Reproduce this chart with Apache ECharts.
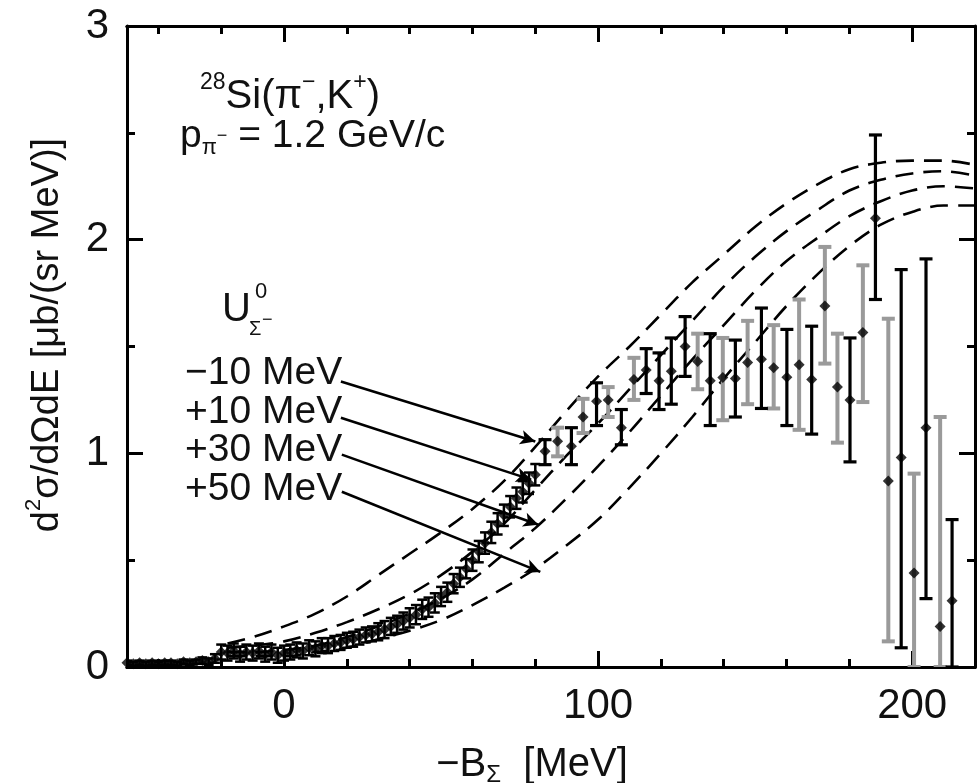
<!DOCTYPE html>
<html><head><meta charset="utf-8">
<script src="https://cdn.jsdelivr.net/npm/echarts@6/dist/echarts.min.js"></script>
<style>html,body{margin:0;padding:0;background:#fff}#c{width:978px;height:783px}</style>
</head><body><div id="c"></div>
<script>
// ---- theory curves (U_Sigma^0 = -10, +10, +30, +50 MeV)
const curveX   = [-18, -10, 0, 10, 20, 30, 40, 50, 60, 70, 80, 90, 100, 110, 120, 130, 140, 150, 160, 170, 180, 190, 200, 210, 220];
const curveM10 = [0.11, 0.14, 0.19, 0.25, 0.33, 0.43, 0.53, 0.63, 0.74, 0.87, 1.03, 1.20, 1.36, 1.50, 1.65, 1.80, 1.93, 2.06, 2.17, 2.26, 2.33, 2.36, 2.37, 2.37, 2.35];
const curveP10 = [0.09, 0.10, 0.12, 0.16, 0.21, 0.27, 0.34, 0.43, 0.54, 0.67, 0.83, 0.99, 1.14, 1.30, 1.46, 1.62, 1.78, 1.92, 2.04, 2.14, 2.23, 2.28, 2.31, 2.32, 2.30];
const curveP30 = [0.07, 0.07, 0.08, 0.10, 0.14, 0.19, 0.25, 0.32, 0.41, 0.53, 0.65, 0.79, 0.94, 1.10, 1.27, 1.44, 1.60, 1.76, 1.90, 2.01, 2.11, 2.18, 2.23, 2.25, 2.24];
const curveP50 = [0.05, 0.05, 0.05, 0.07, 0.09, 0.13, 0.17, 0.22, 0.29, 0.37, 0.46, 0.57, 0.69, 0.84, 1.00, 1.17, 1.35, 1.52, 1.69, 1.84, 1.97, 2.07, 2.13, 2.16, 2.16];
const curveNames = ['-10 MeV', '+10 MeV', '+30 MeV', '+50 MeV'];

// ---- low-energy data (black)
const lowX = [-50,-48,-46,-44,-42,-40,-38,-36,-34,-32,-30,-28,-26,-24,-22,-20,-18,-16,-14,-12,-10,-8,-6,-4,-2,0,2,4,6,8,10,12,14,16,18,20,22,24,26,28,30,32,34,36,38,40,42,44,46,48,50,52,54,56,58,60,62,64,66,68,70,72,74,76,78,80];
const lowY = [0.02,0.015,0.02,0.015,0.02,0.015,0.02,0.02,0.015,0.025,0.02,0.025,0.03,0.025,0.04,0.07,0.065,0.075,0.06,0.07,0.065,0.075,0.06,0.07,0.055,0.065,0.07,0.08,0.075,0.09,0.085,0.10,0.10,0.11,0.115,0.125,0.13,0.14,0.15,0.155,0.165,0.175,0.19,0.20,0.215,0.23,0.245,0.27,0.28,0.30,0.33,0.35,0.39,0.42,0.46,0.50,0.54,0.58,0.63,0.67,0.71,0.75,0.79,0.82,0.86,0.90];
const lowErr = [0.01,0.01,0.01,0.01,0.01,0.01,0.01,0.01,0.01,0.01,0.01,0.01,0.015,0.015,0.02,0.035,0.035,0.035,0.035,0.035,0.035,0.035,0.035,0.035,0.035,0.035,0.035,0.035,0.035,0.035,0.035,0.035,0.035,0.035,0.035,0.035,0.035,0.035,0.035,0.035,0.04,0.04,0.04,0.04,0.04,0.045,0.045,0.045,0.045,0.045,0.045,0.045,0.045,0.045,0.045,0.05,0.05,0.05,0.05,0.05,0.05,0.05,0.05,0.05,0.05,0.05];

// ---- higher-energy data, black error bars
const blackX  = [83.1, 91.5, 99.5, 107.4, 115.3, 119.4, 123.3, 127.7, 135.7, 143.7, 152.0, 160.1, 168.0, 180.2, 188.3, 196.5, 204.4, 212.7];
const blackY  = [1.01, 1.033, 1.244, 1.12, 1.39, 1.34, 1.384, 1.50, 1.34, 1.35, 1.44, 1.356, 1.345, 1.25, 2.10, 0.98, 1.12, 0.31];
const blackLo = [0.947, 0.947, 1.13, 1.04, 1.28, 1.205, 1.23, 1.36, 1.13, 1.17, 1.21, 1.13, 1.09, 0.96, 1.72, 0.09, 0.32, 0.0];
const blackHi = [1.064, 1.12, 1.33, 1.205, 1.49, 1.47, 1.54, 1.64, 1.56, 1.53, 1.68, 1.58, 1.595, 1.54, 2.49, 1.86, 1.91, 0.69];

// ---- higher-energy data, grey error bars
const greyX  = [87.1, 95.2, 103.2, 111.4, 131.7, 139.7, 147.6, 155.9, 164.0, 172.2, 176.2, 184.3, 192.4, 200.6, 208.9];
const greyY  = [1.056, 1.17, 1.25, 1.345, 1.43, 1.355, 1.425, 1.40, 1.415, 1.69, 1.31, 1.565, 0.87, 0.44, 0.19];
const greyLo = [0.986, 1.095, 1.17, 1.25, 1.30, 1.155, 1.23, 1.21, 1.11, 1.42, 1.05, 1.24, 0.12, 0.0, 0.0];
const greyHi = [1.12, 1.255, 1.31, 1.447, 1.56, 1.54, 1.62, 1.60, 1.72, 1.966, 1.56, 1.88, 1.63, 0.905, 1.17];

// ---- arrows (label -> curve), data coords
const arrowFrom = [[18.1, 1.336], [18.1, 1.167], [18.4, 0.994], [18.4, 0.82]];
const arrowTo   = [[80.0, 1.055], [78.7, 0.877], [81.0, 0.666], [81.6, 0.445]];

// ---- axis ticks
const xLabels = [0, 100, 200];
const xMinor = [-40, -20, 20, 40, 60, 80, 120, 140, 160, 180, 220];

const F = '"Liberation Sans", Arial, Helvetica, sans-serif';
const chart = echarts.init(document.getElementById('c'));

const pairs = (xs, ys) => xs.map((x, i) => [x, ys[i]]);
const lowBars = lowX.map((x, i) => [x, lowY[i], lowY[i] - lowErr[i], lowY[i] + lowErr[i]]);
const blackBars = blackX.map((x, i) => [x, blackY[i], blackLo[i], blackHi[i]]);
const greyBars = greyX.map((x, i) => [x, greyY[i], greyLo[i], greyHi[i]]);

function errRender(color, capW, lw) {
  return function (params, api) {
    const x = api.value(0), lo = api.value(2), hi = api.value(3);
    const a = api.coord([x, hi]), b = api.coord([x, lo]);
    const h = capW / 2;
    const st = { stroke: color, lineWidth: lw };
    return { type: 'group', children: [
      { type: 'line', shape: { x1: a[0], y1: a[1], x2: b[0], y2: b[1] }, style: st },
      { type: 'line', shape: { x1: a[0] - h, y1: a[1], x2: a[0] + h, y2: a[1] }, style: st },
      { type: 'line', shape: { x1: b[0] - h, y1: b[1], x2: b[0] + h, y2: b[1] }, style: st }
    ]};
  };
}

const axisLine = { show: true, onZero: false, lineStyle: { color: '#000', width: 3 } };
function xAx(pos, ticks, len, labels) {
  return {
    type: 'value', position: pos, min: -50, max: 220,
    axisLine: axisLine, splitLine: { show: false },
    axisTick: { show: true, inside: true, length: len, customValues: ticks, lineStyle: { color: '#000', width: 3 } },
    axisLabel: labels ? { show: true, customValues: xLabels, margin: 18, fontSize: 42, fontFamily: F, color: '#111' } : { show: false }
  };
}
function yAx(pos, labels) {
  return {
    type: 'value', position: pos, min: 0, max: 3, interval: 1,
    axisLine: axisLine, splitLine: { show: false },
    axisTick: { show: true, inside: true, length: 16, lineStyle: { color: '#000', width: 3 } },
    minorTick: { show: true, splitNumber: 2, length: 8, lineStyle: { color: '#000', width: 3 } },
    minorSplitLine: { show: false },
    axisLabel: labels ? { show: true, margin: 18, fontSize: 42, fontFamily: F, color: '#111' } : { show: false }
  };
}

const dash = { color: '#000', width: 2.6, type: [18, 10] };
const curves = [curveM10, curveP10, curveP30, curveP50].map((c, i) => ({
  name: curveNames[i], type: 'line', xAxisIndex: 0, yAxisIndex: 0,
  data: pairs(curveX, c), smooth: 0.35, symbol: 'none', lineStyle: dash, z: 2
}));
curves[0].markLine = {
  silent: true, symbol: ['none', 'arrow'], symbolSize: [11, 15],
  lineStyle: { color: '#000', width: 2.6, type: 'solid' }, label: { show: false },
  data: arrowFrom.map((f, i) => [{ coord: f }, { coord: arrowTo[i] }])
};

const T = (s) => Object.assign({ fill: '#111', fontFamily: F }, s);

chart.setOption({
  animation: false,
  backgroundColor: '#fff',
  grid: { left: 127, right: 3, top: 26, bottom: 116 },
  xAxis: [xAx('bottom', xLabels, 16, true), xAx('bottom', xMinor, 8, false), xAx('top', xLabels, 16, false), xAx('top', xMinor, 8, false)],
  yAxis: [yAx('left', true), yAx('right', false)],
  series: curves.concat([
    { type: 'custom', name: 'lowbars', data: lowBars, renderItem: errRender('#000', 10, 2.5), clip: true, z: 3 },
    { type: 'custom', name: 'greybars', data: greyBars, renderItem: errRender('#9a9a9a', 13, 4), clip: true, z: 3 },
    { type: 'custom', name: 'blackbars', data: blackBars, renderItem: errRender('#000', 13, 3.2), clip: true, z: 4 },
    { type: 'scatter', name: 'pts', data: pairs(lowX, lowY).concat(pairs(blackX, blackY), pairs(greyX, greyY)),
      symbol: 'diamond', symbolSize: 11, itemStyle: { color: '#000' }, z: 5 }
  ]),
  graphic: [
    { type: 'text', x: 200, y: 94, style: T({ text: '{s|28}{n|Si(π}{s|−}{n|,K}{s|+}{n|)}', verticalAlign: 'middle', textVerticalAlign: 'middle',
      rich: { n: { fontSize: 40, fontFamily: F, fill: '#111', lineHeight: 46, verticalAlign: 'bottom' },
              s: { fontSize: 23, fontFamily: F, fill: '#111', lineHeight: 24, verticalAlign: 'top' } } }) },
    { type: 'text', x: 180, y: 136, style: T({ text: '{n|p}{b|π}{s|−}{n| = 1.2 GeV/c}', verticalAlign: 'middle', textVerticalAlign: 'middle',
      rich: { n: { fontSize: 39, fontFamily: F, fill: '#111', lineHeight: 46, verticalAlign: 'middle' },
              b: { fontSize: 22, fontFamily: F, fill: '#111', lineHeight: 22, verticalAlign: 'bottom' },
              s: { fontSize: 18, fontFamily: F, fill: '#111', lineHeight: 36, verticalAlign: 'middle' } } }) },
    { type: 'text', x: 222, y: 310, style: T({ text: 'U', fontSize: 40, verticalAlign: 'middle', textVerticalAlign: 'middle' }) },
    { type: 'text', x: 255, y: 292, style: T({ text: '0', fontSize: 22, verticalAlign: 'middle', textVerticalAlign: 'middle' }) },
    { type: 'text', x: 249, y: 329, style: T({ text: 'Σ', fontSize: 20, verticalAlign: 'middle', textVerticalAlign: 'middle' }) },
    { type: 'text', x: 262, y: 320, style: T({ text: '−', fontSize: 18, verticalAlign: 'middle', textVerticalAlign: 'middle' }) },
    { type: 'text', x: 185, y: 373, style: T({ text: '−10 MeV', fontSize: 39, verticalAlign: 'middle', textVerticalAlign: 'middle' }) },
    { type: 'text', x: 185, y: 412, style: T({ text: '+10 MeV', fontSize: 39, verticalAlign: 'middle', textVerticalAlign: 'middle' }) },
    { type: 'text', x: 185, y: 450, style: T({ text: '+30 MeV', fontSize: 39, verticalAlign: 'middle', textVerticalAlign: 'middle' }) },
    { type: 'text', x: 185, y: 489, style: T({ text: '+50 MeV', fontSize: 39, verticalAlign: 'middle', textVerticalAlign: 'middle' }) },
    { type: 'text', x: 45, y: 335, rotation: Math.PI / 2, style: T({ text: '{n|d}{s|2}{n|σ/dΩdE [μb/(sr MeV)]}', align: 'center', textAlign: 'center', verticalAlign: 'middle', textVerticalAlign: 'middle',
      rich: { n: { fontSize: 38, fontFamily: F, fill: '#111', lineHeight: 44, verticalAlign: 'bottom' },
              s: { fontSize: 22, fontFamily: F, fill: '#111', lineHeight: 22, verticalAlign: 'top' } } }) },
    { type: 'text', x: 532, y: 765, style: T({ text: '{n|−B}{b|Σ}{n|  [MeV]}', align: 'center', textAlign: 'center', verticalAlign: 'middle', textVerticalAlign: 'middle',
      rich: { n: { fontSize: 40, fontFamily: F, fill: '#111', lineHeight: 44, verticalAlign: 'middle' },
              b: { fontSize: 24, fontFamily: F, fill: '#111', lineHeight: 32, verticalAlign: 'bottom' } } }) }
  ]
});
</script>
</body></html>
